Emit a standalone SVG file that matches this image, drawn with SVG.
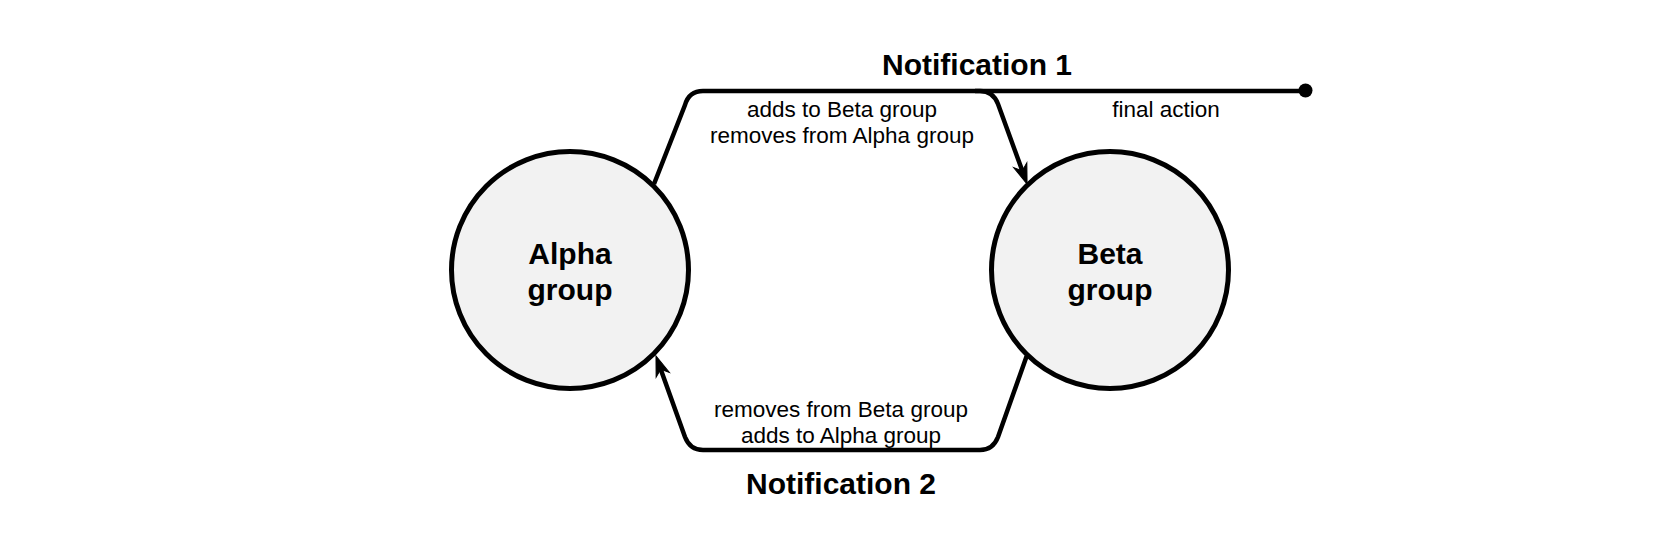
<svg xmlns="http://www.w3.org/2000/svg" width="1680" height="540" viewBox="0 0 1680 540">
<style>
.node{fill:#f2f2f2;stroke:#000;stroke-width:5}
.edge{fill:none;stroke:#000;stroke-width:4.5;stroke-linejoin:round}
.big{font-family:"Liberation Sans",Arial,sans-serif;font-weight:bold;font-size:30px;text-anchor:middle;fill:#000}
.nl{font-family:"Liberation Sans",Arial,sans-serif;font-weight:bold;font-size:30px;text-anchor:middle;fill:#000}
.lbl{font-family:"Liberation Sans",Arial,sans-serif;font-size:22.5px;text-anchor:middle;fill:#000}
</style>
<defs>
<marker id="arrow" markerUnits="userSpaceOnUse" orient="auto" refX="0" refY="0" viewBox="-7 -8 22 16" markerWidth="22" markerHeight="16" overflow="visible">
<path d="M-6,-7 L14,0 L-6,7 L0,0 Z" fill="#000" stroke="#000" stroke-width="1"/>
</marker>
</defs>
<rect width="1680" height="540" fill="#fff"/>
<g id="connectors">
<path class="edge" d="M654,184 L685,105 Q689,91 703,91 L980,91 Q993,91 998,104 L1022.3,170.8" marker-end="url(#arrow)"/>
<path class="edge" d="M1026.6,356.3 L998,437 Q993,450 980,450 L703,450 Q690,450 685,437 L660.7,369.2" marker-end="url(#arrow)"/>
<path class="edge" d="M975,91 L1305,91"/>
<circle cx="1305.5" cy="90.5" r="7" fill="#000"/>
<text class="big" x="977" y="75">Notification 1</text>
<text class="lbl" x="842" y="117">adds to Beta group</text>
<text class="lbl" x="842" y="143">removes from Alpha group</text>
<text class="lbl" x="1166" y="117">final action</text>
<text class="lbl" x="841" y="417">removes from Beta group</text>
<text class="lbl" x="841" y="443">adds to Alpha group</text>
<text class="big" x="841" y="494">Notification 2</text>
</g>
<g id="alpha">
<circle class="node" cx="570" cy="270" r="118.5"/>
<text class="nl" x="570" y="264">Alpha</text>
<text class="nl" x="570" y="300">group</text>
</g>
<g id="beta">
<circle class="node" cx="1110" cy="270" r="118.5"/>
<text class="nl" x="1110" y="264">Beta</text>
<text class="nl" x="1110" y="300">group</text>
</g>
</svg>
